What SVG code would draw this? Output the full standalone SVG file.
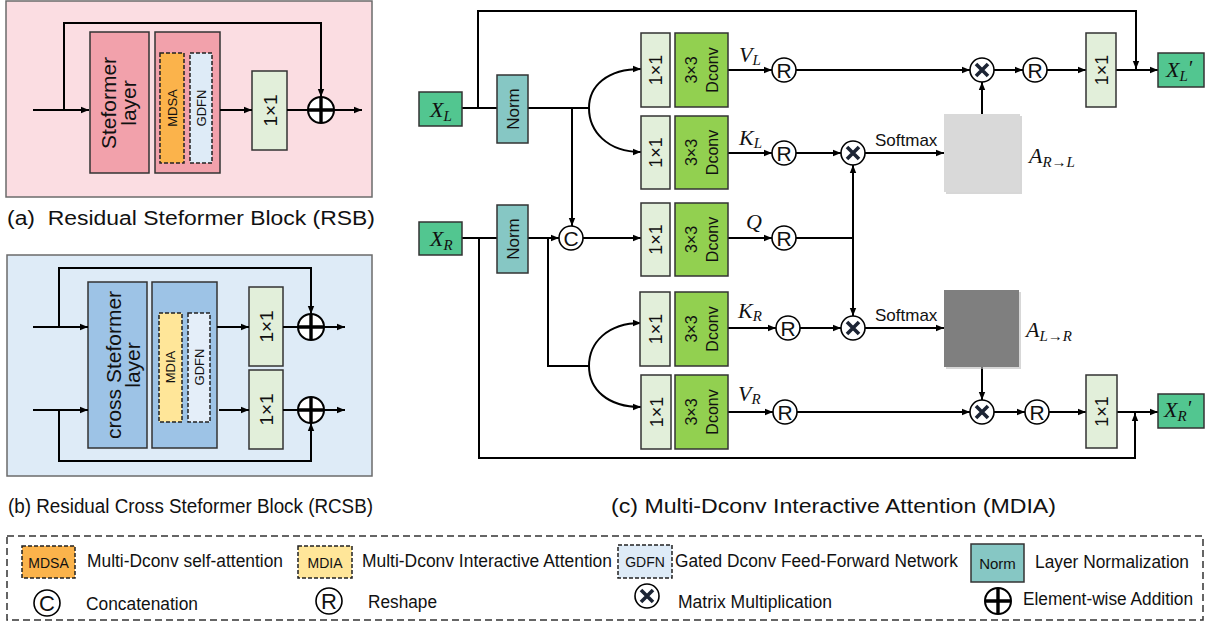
<svg xmlns="http://www.w3.org/2000/svg" width="1211" height="630" viewBox="0 0 1211 630">
<style>
.box{stroke:#333;stroke-width:1.5}
.dash{stroke:#222;stroke-width:1.5;stroke-dasharray:4 2}
.ln{fill:none;stroke:#000;stroke-width:2}
.arr{marker-end:url(#ah)}
.sans{font-family:"Liberation Sans",Arial,sans-serif;fill:#111}
.math{font-family:"Liberation Serif","Times New Roman",serif;font-style:italic;fill:#111}
.k11{fill:#e2efda}
.dc{fill:#92d050}
.nrm{fill:#86c7c4}
.xin{fill:#52c690}
.circ{fill:#fff;stroke:#000;stroke-width:1.6}
</style>
<defs>
<marker id="ah" viewBox="0 0 10 10" refX="10" refY="5" markerWidth="8" markerHeight="8" markerUnits="userSpaceOnUse" orient="auto"><path d="M0,1 L10,5 L0,9 z" fill="#000"/></marker>
<g id="rsym"><circle r="12" class="circ"/><text y="7.5" text-anchor="middle" class="sans" font-size="21">R</text></g>
<g id="msym"><circle r="12" class="circ"/><path d="M-6,-6 L6,6 M6,-6 L-6,6" stroke="#1c2434" stroke-width="3.6" stroke-linecap="butt"/></g>
<g id="psym"><circle r="13" fill="#fff" stroke="#000" stroke-width="2"/><path d="M-13,0 H13 M0,-13 V13" stroke="#000" stroke-width="3.4"/></g>
<g id="csym"><circle r="12" class="circ"/><text y="7.5" text-anchor="middle" class="sans" font-size="21">C</text></g>
</defs>

<!-- Panel (a) -->
<g id="panel-a">
<rect x="6" y="1" width="366" height="196" fill="#fbdde2" stroke="#6b6b6b" stroke-width="1.5"/>
<g id="a-steformer"><rect x="90" y="32" width="59" height="141" fill="#f2a1ab" class="box"/>
<text transform="translate(115.5,103) rotate(-90)" text-anchor="middle" class="sans" font-size="21">Steformer</text>
<text transform="translate(135.5,103) rotate(-90)" text-anchor="middle" class="sans" font-size="21">layer</text></g>
<g id="a-inner"><rect x="155" y="32" width="65" height="141" fill="#f2a1ab" class="box"/>
<rect x="160" y="53" width="24" height="110" fill="#fbb34b" class="dash"/>
<text transform="translate(176.8,108) rotate(-90)" text-anchor="middle" class="sans" font-size="13">MDSA</text>
<rect x="190" y="53" width="22" height="110" fill="#deebf7" class="dash"/>
<text transform="translate(205.7,108) rotate(-90)" text-anchor="middle" class="sans" font-size="13">GDFN</text></g>
<g id="a-conv"><rect x="252" y="71" width="35" height="79" class="k11 box"/>
<text transform="translate(276.5,110.5) rotate(-90)" text-anchor="middle" class="sans" font-size="19">1×1</text></g>
<g id="a-add"><use href="#psym" x="321" y="110"/></g>
</g>
<g id="a-connectors">
<path class="ln arr" d="M33,110 H89"/>
<path class="ln arr" d="M64,110 V23 H321 V97"/>
<path class="ln arr" d="M220,110 H252"/>
<path class="ln" d="M287,110 H308"/>
<path class="ln arr" d="M334,110 H362"/>
</g>
<text x="7" y="225" class="sans" font-size="20" textLength="368" lengthAdjust="spacingAndGlyphs" xml:space="preserve">(a)  Residual Steformer Block (RSB)</text>

<!-- Panel (b) -->
<g id="panel-b">
<rect x="7" y="255" width="365" height="221" fill="#deebf7" stroke="#6b6b6b" stroke-width="1.5"/>
<g id="b-cross"><rect x="88" y="282" width="59" height="166" fill="#9dc3e6" class="box"/>
<text transform="translate(120.5,365) rotate(-90)" text-anchor="middle" class="sans" font-size="21">cross Steformer</text>
<text transform="translate(139.5,365) rotate(-90)" text-anchor="middle" class="sans" font-size="21">layer</text></g>
<g id="b-inner"><rect x="152" y="282" width="65" height="166" fill="#9dc3e6" class="box"/>
<rect x="159" y="313" width="23" height="109" fill="#ffe699" class="dash"/>
<text transform="translate(175.2,367) rotate(-90)" text-anchor="middle" class="sans" font-size="13">MDIA</text>
<rect x="188" y="313" width="22" height="109" fill="#e4eef9" class="dash"/>
<text transform="translate(203.7,367) rotate(-90)" text-anchor="middle" class="sans" font-size="13">GDFN</text></g>
<g id="b-conv1"><rect x="249" y="287" width="34" height="79" class="k11 box"/>
<text transform="translate(272.8,326.5) rotate(-90)" text-anchor="middle" class="sans" font-size="19">1×1</text></g>
<g id="b-conv2"><rect x="249" y="370" width="34" height="79" class="k11 box"/>
<text transform="translate(272.8,409.5) rotate(-90)" text-anchor="middle" class="sans" font-size="19">1×1</text></g>
<g id="b-add1"><use href="#psym" x="311" y="327"/></g>
<g id="b-add2"><use href="#psym" x="311" y="410"/></g>
</g>
<g id="b-connectors">
<path class="ln arr" d="M33,327 H88"/>
<path class="ln arr" d="M59,327 V268 H311 V314"/>
<path class="ln arr" d="M217,327 H249"/>
<path class="ln" d="M283,327 H298"/>
<path class="ln arr" d="M324,327 H345"/>
<path class="ln arr" d="M33,410 H88"/>
<path class="ln arr" d="M59,410 V461 H311 V423"/>
<path class="ln arr" d="M219,410 H249"/>
<path class="ln" d="M283,410 H298"/>
<path class="ln arr" d="M324,410 H345"/>
</g>
<text x="8" y="513" class="sans" font-size="20" textLength="365" lengthAdjust="spacingAndGlyphs">(b) Residual Cross Steformer Block (RCSB)</text>

<!-- Panel (c) -->
<g id="c-connectors">
<path class="ln" d="M462,108 H497"/>
<path class="ln arr" d="M478,108 V11 H1136 V69"/>
<path class="ln" d="M528,108 H589"/>
<path class="ln arr" d="M589,108 C589,86 607,69 641,69"/>
<path class="ln arr" d="M589,108 C589,131 607,152 641,152"/>
<path class="ln arr" d="M572,108 V226"/>
<path class="ln" d="M462,238 H497"/>
<path class="ln arr" d="M479,238 V458 H1135 V413"/>
<path class="ln arr" d="M528,238 H559"/>
<path class="ln" d="M548,238 V366 H589"/>
<path class="ln arr" d="M589,366 C589,343 607,323 641,323"/>
<path class="ln arr" d="M589,366 C589,389 607,407 641,407"/>
<path class="ln arr" d="M583,238 H641"/>
<path class="ln arr" d="M728,70 H772"/>
<path class="ln arr" d="M728,153 H772"/>
<path class="ln arr" d="M728,238 H772"/>
<path class="ln arr" d="M728,328 H776"/>
<path class="ln arr" d="M728,412 H773"/>
<path class="ln arr" d="M796,70 H970"/>
<path class="ln arr" d="M994,70 H1023"/>
<path class="ln arr" d="M1047,70 H1086"/>
<path class="ln arr" d="M1116,70 H1158"/>
<path class="ln arr" d="M982,114 V82"/>
<path class="ln arr" d="M796,153 H841"/>
<path class="ln arr" d="M865,153 H944"/>
<path class="ln arr" d="M796,238 H853 V165"/>
<path class="ln arr" d="M853,238 V316"/>
<path class="ln arr" d="M800,328 H841"/>
<path class="ln arr" d="M865,328 H944"/>
<path class="ln arr" d="M982,367 V400"/>
<path class="ln arr" d="M797,412 H970"/>
<path class="ln arr" d="M994,412 H1025"/>
<path class="ln arr" d="M1049,412 H1086"/>
<path class="ln arr" d="M1117,412 H1158"/>
</g>

<g id="c-XL"><rect x="419" y="92" width="43" height="34" class="xin box"/>
<text x="430" y="117" class="math" font-size="22">X<tspan font-size="15" dy="4">L</tspan></text></g>
<g id="c-XR"><rect x="419" y="222" width="43" height="33" class="xin box"/>
<text x="430" y="246" class="math" font-size="22">X<tspan font-size="15" dy="4">R</tspan></text></g>
<g id="c-normL"><rect x="497" y="75" width="31" height="68" class="nrm box"/>
<text transform="translate(518.6,109) rotate(-90)" text-anchor="middle" class="sans" font-size="17">Norm</text></g>
<g id="c-normR"><rect x="497" y="205" width="31" height="68" class="nrm box"/>
<text transform="translate(518.6,239) rotate(-90)" text-anchor="middle" class="sans" font-size="17">Norm</text></g>
<g id="c-concat"><use href="#csym" x="571" y="238"/></g>

<g id="c-row-VL"><rect x="641" y="33" width="29" height="74" class="k11 box"/>
<text transform="translate(662,70) rotate(-90)" text-anchor="middle" class="sans" font-size="18">1×1</text>
<rect x="675" y="33" width="53" height="74" class="dc box"/>
<text transform="translate(696.8,70) rotate(-90)" text-anchor="middle" class="sans" font-size="16">3×3</text>
<text transform="translate(717.8,70) rotate(-90)" text-anchor="middle" class="sans" font-size="16">Dconv</text></g>
<g id="c-row-KL"><rect x="641" y="116" width="29" height="73" class="k11 box"/>
<text transform="translate(662,152.5) rotate(-90)" text-anchor="middle" class="sans" font-size="18">1×1</text>
<rect x="675" y="116" width="53" height="73" class="dc box"/>
<text transform="translate(696.8,152.5) rotate(-90)" text-anchor="middle" class="sans" font-size="16">3×3</text>
<text transform="translate(717.8,152.5) rotate(-90)" text-anchor="middle" class="sans" font-size="16">Dconv</text></g>
<g id="c-row-Q"><rect x="641" y="203" width="29" height="73" class="k11 box"/>
<text transform="translate(662,239.5) rotate(-90)" text-anchor="middle" class="sans" font-size="18">1×1</text>
<rect x="675" y="203" width="53" height="73" class="dc box"/>
<text transform="translate(696.8,239.5) rotate(-90)" text-anchor="middle" class="sans" font-size="16">3×3</text>
<text transform="translate(717.8,239.5) rotate(-90)" text-anchor="middle" class="sans" font-size="16">Dconv</text></g>
<g id="c-row-KR"><rect x="640" y="292" width="30" height="74" class="k11 box"/>
<text transform="translate(661.5,329) rotate(-90)" text-anchor="middle" class="sans" font-size="18">1×1</text>
<rect x="675" y="292" width="53" height="74" class="dc box"/>
<text transform="translate(696.8,329) rotate(-90)" text-anchor="middle" class="sans" font-size="16">3×3</text>
<text transform="translate(717.8,329) rotate(-90)" text-anchor="middle" class="sans" font-size="16">Dconv</text></g>
<g id="c-row-VR"><rect x="641" y="375" width="30" height="74" class="k11 box"/>
<text transform="translate(662.5,412) rotate(-90)" text-anchor="middle" class="sans" font-size="18">1×1</text>
<rect x="675" y="375" width="53" height="74" class="dc box"/>
<text transform="translate(696.8,412) rotate(-90)" text-anchor="middle" class="sans" font-size="16">3×3</text>
<text transform="translate(717.8,412) rotate(-90)" text-anchor="middle" class="sans" font-size="16">Dconv</text></g>

<g id="c-labels">
<text x="739" y="62" class="math" font-size="22">V<tspan font-size="15" dy="3">L</tspan></text>
<text x="739" y="145" class="math" font-size="22">K<tspan font-size="15" dy="3">L</tspan></text>
<text x="746" y="229" class="math" font-size="22">Q</text>
<text x="738" y="318" class="math" font-size="22">K<tspan font-size="15" dy="3">R</tspan></text>
<text x="738" y="401" class="math" font-size="22">V<tspan font-size="15" dy="3">R</tspan></text>
<text x="875" y="146" class="sans" font-size="17">Softmax</text>
<text x="875" y="321" class="sans" font-size="17">Softmax</text>
</g>

<g id="c-R1"><use href="#rsym" x="784" y="70"/></g>
<g id="c-R2"><use href="#rsym" x="784" y="153"/></g>
<g id="c-R3"><use href="#rsym" x="784" y="238"/></g>
<g id="c-R4"><use href="#rsym" x="788" y="328"/></g>
<g id="c-R5"><use href="#rsym" x="785" y="412"/></g>
<g id="c-M1"><use href="#msym" x="982" y="70"/></g>
<g id="c-M2"><use href="#msym" x="853" y="153"/></g>
<g id="c-M3"><use href="#msym" x="853" y="328"/></g>
<g id="c-M4"><use href="#msym" x="982" y="412"/></g>
<g id="c-R6"><use href="#rsym" x="1035" y="70"/></g>
<g id="c-R7"><use href="#rsym" x="1037" y="412"/></g>

<g id="c-ARL"><rect x="946" y="116" width="76" height="78" fill="#bdbdbd" opacity="0.6"/>
<rect x="944" y="114" width="76" height="78" fill="#d9d9d9"/>
<text x="1029" y="163" class="math" font-size="22">A<tspan font-size="15" dy="4">R→L</tspan></text></g>
<g id="c-ALR"><rect x="946" y="292" width="75" height="77" fill="#bdbdbd" opacity="0.6"/>
<rect x="944" y="290" width="75" height="77" fill="#7f7f7f"/>
<text x="1026" y="337" class="math" font-size="22">A<tspan font-size="15" dy="4">L→R</tspan></text></g>

<g id="c-convL"><rect x="1086" y="33" width="30" height="74" class="k11 box"/>
<text transform="translate(1107.5,70) rotate(-90)" text-anchor="middle" class="sans" font-size="18">1×1</text></g>
<g id="c-convR"><rect x="1086" y="375" width="31" height="73" class="k11 box"/>
<text transform="translate(1108,411.5) rotate(-90)" text-anchor="middle" class="sans" font-size="18">1×1</text></g>
<g id="c-XLout"><rect x="1158" y="53" width="46" height="34" class="xin box"/>
<text x="1166" y="77" class="math" font-size="22">X<tspan font-size="15" dy="4">L</tspan><tspan font-size="20" dy="-6">′</tspan></text></g>
<g id="c-XRout"><rect x="1158" y="394" width="46" height="34" class="xin box"/>
<text x="1164" y="417" class="math" font-size="22">X<tspan font-size="15" dy="4">R</tspan><tspan font-size="20" dy="-6">′</tspan></text></g>
<text x="611" y="513" class="sans" font-size="20" textLength="445" lengthAdjust="spacingAndGlyphs">(c) Multi-Dconv Interactive Attention (MDIA)</text>

<!-- Legend -->
<g id="legend">
<rect x="7" y="536" width="1196" height="84" fill="none" stroke="#333" stroke-width="1.5" stroke-dasharray="7 4"/>
<g id="lg-mdsa"><rect x="22" y="546" width="53" height="32" fill="#fbb34b" class="dash"/>
<text x="48.5" y="568" text-anchor="middle" class="sans" font-size="14">MDSA</text>
<text x="87" y="567" class="sans" font-size="17.5" textLength="196" lengthAdjust="spacingAndGlyphs">Multi-Dconv self-attention</text></g>
<g id="lg-mdia"><rect x="298" y="546" width="54" height="32" fill="#ffe699" class="dash"/>
<text x="325" y="568" text-anchor="middle" class="sans" font-size="14">MDIA</text>
<text x="362" y="567" class="sans" font-size="17.5" textLength="250" lengthAdjust="spacingAndGlyphs">Multi-Dconv Interactive Attention</text></g>
<g id="lg-gdfn"><rect x="618" y="545" width="54" height="33" fill="#deebf7" class="dash"/>
<text x="645" y="567" text-anchor="middle" class="sans" font-size="14">GDFN</text>
<text x="675" y="567" class="sans" font-size="17.5" textLength="283" lengthAdjust="spacingAndGlyphs">Gated Dconv Feed-Forward Network</text></g>
<g id="lg-norm"><rect x="971" y="544" width="53" height="38" class="nrm box"/>
<text x="997.5" y="569" text-anchor="middle" class="sans" font-size="15">Norm</text>
<text x="1035" y="568" class="sans" font-size="17.5" textLength="154" lengthAdjust="spacingAndGlyphs">Layer Normalization</text></g>
<g id="lg-concat"><circle cx="47" cy="603" r="13" fill="#fff" stroke="#000" stroke-width="1.6"/><text x="47" y="611" text-anchor="middle" class="sans" font-size="22">C</text>
<text x="86" y="610" class="sans" font-size="17.5" textLength="112" lengthAdjust="spacingAndGlyphs">Concatenation</text></g>
<g id="lg-reshape"><circle cx="329" cy="601" r="13" fill="#fff" stroke="#000" stroke-width="1.6"/><text x="329" y="609" text-anchor="middle" class="sans" font-size="22">R</text>
<text x="368" y="608" class="sans" font-size="17.5" textLength="69" lengthAdjust="spacingAndGlyphs">Reshape</text></g>
<g id="lg-matmul"><use href="#msym" x="647" y="596"/>
<text x="678" y="608" class="sans" font-size="17.5" textLength="154" lengthAdjust="spacingAndGlyphs">Matrix Multiplication</text></g>
<g id="lg-add"><use href="#psym" x="998" y="601"/>
<text x="1023" y="605" class="sans" font-size="17.5" textLength="170" lengthAdjust="spacingAndGlyphs">Element-wise Addition</text></g>
</g>
</svg>
